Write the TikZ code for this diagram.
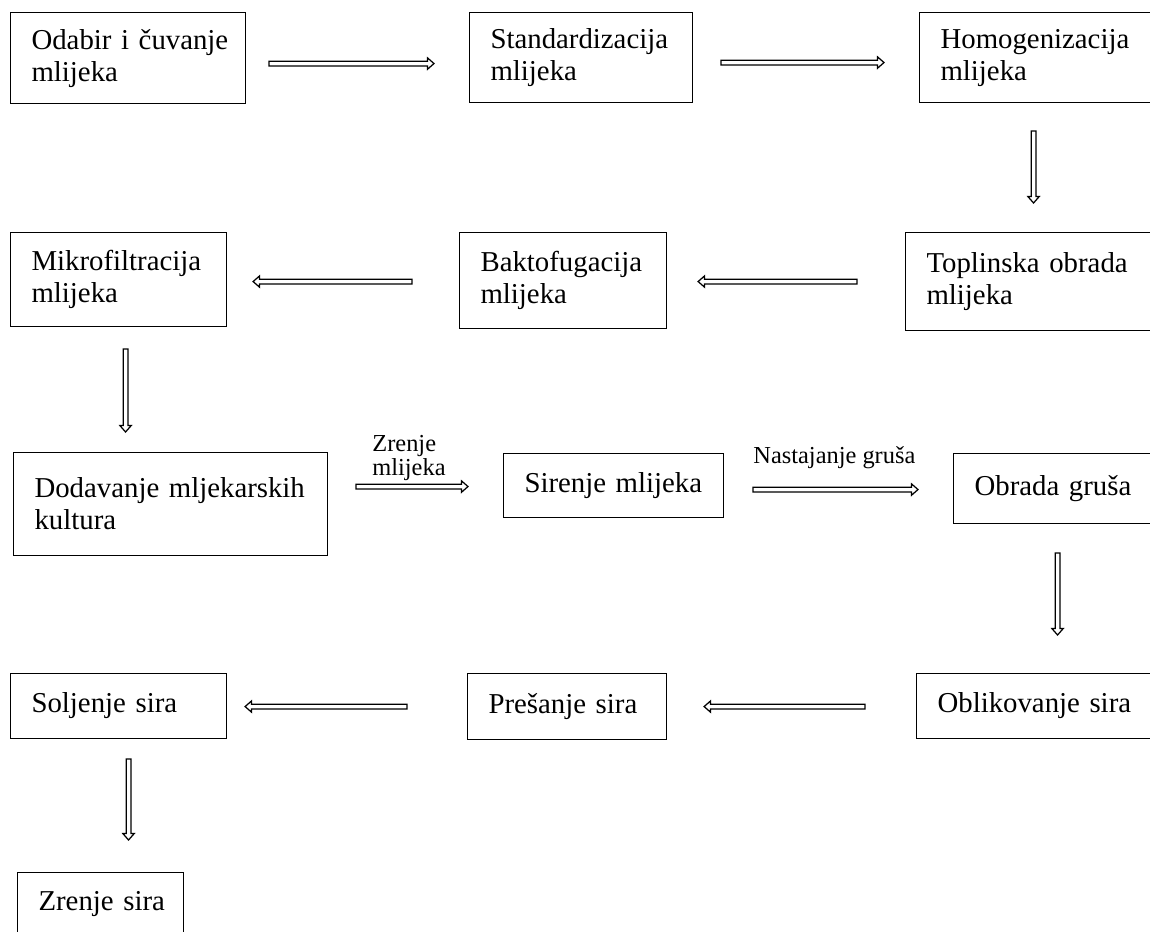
\documentclass[tikz,border=0pt]{standalone}
\usepackage{fontspec}
\setmainfont{Liberation Serif}
\usetikzlibrary{calc}
\begin{document}
\begin{tikzpicture}[x=0.5pt,y=-0.5pt,
  box/.style={draw, line width=0.55pt, anchor=north west, inner xsep=0pt, inner ysep=0pt,
    align=left, font=\fontsize{14.4}{16}\selectfont,
    execute at begin node={\leftskip=10.5pt\relax}},
  darr/.style={draw, line width=0.62pt, line join=miter, to path={
    let \p1=(\tikztostart), \p2=(\tikztotarget),
        \n1={veclen(\x2-\x1,\y2-\y1)}, \n2={(\x2-\x1)/\n1}, \n3={(\y2-\y1)/\n1} in
    ({\x1-\n3*1.2pt},{\y1+\n2*1.2pt})
    -- ({\x2-\n2*3.2pt-\n3*1.2pt},{\y2-\n3*3.2pt+\n2*1.2pt})
    -- ({\x2-\n2*3.2pt-\n3*2.8pt},{\y2-\n3*3.2pt+\n2*2.8pt})
    -- (\p2)
    -- ({\x2-\n2*3.2pt+\n3*2.8pt},{\y2-\n3*3.2pt-\n2*2.8pt})
    -- ({\x2-\n2*3.2pt+\n3*1.2pt},{\y2-\n3*3.2pt-\n2*1.2pt})
    -- ({\x1+\n3*1.2pt},{\y1-\n2*1.2pt}) -- cycle}},
  lbl/.style={font=\fontsize{12.2}{11}\selectfont, align=left, inner sep=0pt}
]
\useasboundingbox (0,0) rectangle (1150,931);

\node[box, text width=117.5pt, minimum height=45.5pt] (a) at (10,12) {Odabir i čuvanje\\mlijeka};
\node[box, text width=111.5pt, minimum height=45pt] (b) at (469,12) {Standardizacija\\mlijeka};
\node[box, text width=120.5pt, minimum height=45pt] (c) at (919,12) {Homogenizacija\\mlijeka};
\node[box, text width=127.5pt, minimum height=49pt] (d) at (905,232) {Toplinska obrada\\mlijeka};
\node[box, text width=103.5pt, minimum height=48pt] (e) at (459,232) {Baktofugacija\\mlijeka};
\node[box, text width=108pt, minimum height=47pt] (f) at (10,232) {Mikrofiltracija\\mlijeka};
\node[box, text width=157pt, minimum height=51.5pt] (g) at (13,452) {Dodavanje mljekarskih\\kultura};
\node[box, text width=110pt, minimum height=32pt] (h) at (503,453) {Sirenje mlijeka};
\node[box, text width=103.5pt, minimum height=35pt] (i) at (953,453) {Obrada gruša};
\node[box, text width=122pt, minimum height=32.5pt] (j) at (916,673) {Oblikovanje sira};
\node[box, text width=99.5pt, minimum height=33pt] (k) at (467,673) {Prešanje sira};
\node[box, text width=108pt, minimum height=32.5pt] (l) at (10,673) {Soljenje sira};
\node[box, text width=83pt, minimum height=31pt] (m) at (17,872) {Zrenje sira};

\draw[darr] ([shift={(11.5pt,-2.75pt)}]a.east) to ([shift={(-17.5pt,-3pt)}]b.west);
\draw[darr] ([shift={(14pt,-2.5pt)}]b.east) to ([shift={(-17.5pt,-2.5pt)}]c.west);
\draw[darr] ([shift={(-3.25pt,-14pt)}]c.south) to ([shift={(0.25pt,14.5pt)}]d.north);
\draw[darr] ([shift={(-24pt,0pt)}]d.west) to ([shift={(15.5pt,-0.5pt)}]e.east);
\draw[darr] ([shift={(-23.5pt,-0.5pt)}]e.west) to ([shift={(13pt,-1pt)}]f.east);
\draw[darr] ([shift={(3.5pt,-11pt)}]f.south) to ([shift={(-22.5pt,10pt)}]g.north);
\draw[darr] ([shift={(14pt,8.75pt)}]g.east) to ([shift={(-17.5pt,-0.5pt)}]h.west);
\draw[darr] ([shift={(14.5pt,-2pt)}]h.east) to ([shift={(-17.5pt,-0.5pt)}]i.west);
\draw[darr] ([shift={(0.25pt,-14.5pt)}]i.south) to ([shift={(9.5pt,19pt)}]j.north);
\draw[darr] ([shift={(-25.5pt,-0.25pt)}]j.west) to ([shift={(18.5pt,0pt)}]k.east);
\draw[darr] ([shift={(-30pt,0pt)}]k.west) to ([shift={(9pt,-0.25pt)}]l.east);
\draw[darr] ([shift={(5pt,-10pt)}]l.south) to ([shift={(14pt,16pt)}]m.north);

\node[lbl, anchor=south west] (lz) at (372,481) {Zrenje\\mlijeka};
\node[lbl, anchor=base west] (ln) at (753,463) {Nastajanje gruša};
\end{tikzpicture}
\end{document}
